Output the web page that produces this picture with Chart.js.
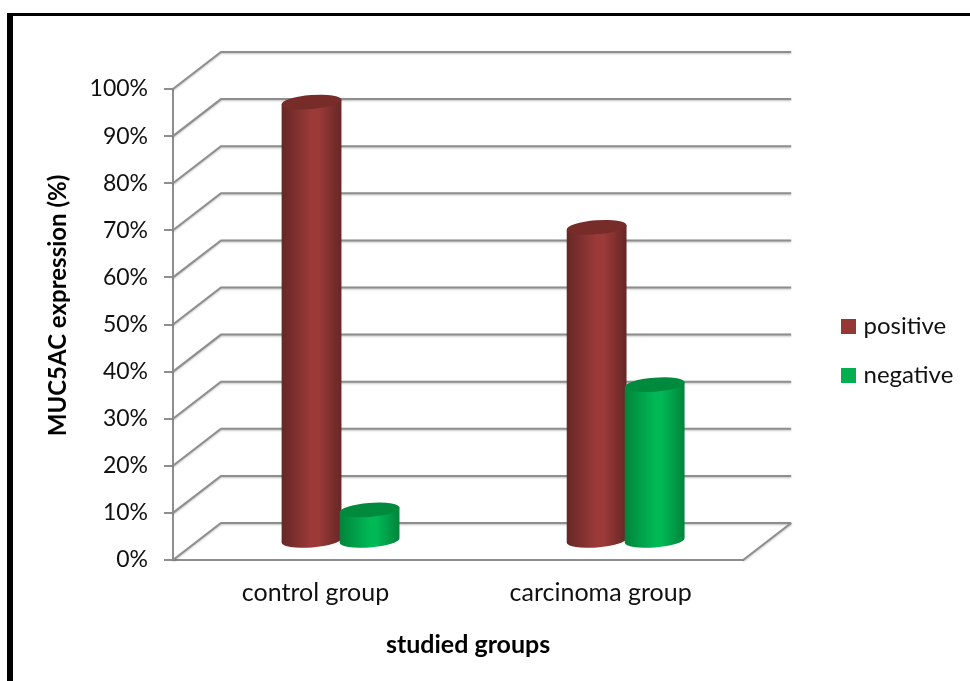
<!DOCTYPE html>
<html>
<head>
<meta charset="utf-8">
<script src="https://cdn.jsdelivr.net/npm/chart.js@4"></script>
<style>
  html, body { margin: 0; padding: 0; background: #fff; overflow: hidden; }
  #frame { position: absolute; left: 7px; top: 13px; right: 0; bottom: 0;
           border-left: 6px solid #000; border-top: 3px solid #000; }
  #c { position: absolute; left: 0; top: 0; }
</style>
</head>
<body>
<div id="frame"></div>
<canvas id="c" width="970" height="681"></canvas>
<script>
const categories = ['control group', 'carcinoma group'];
const positive = [93.3, 66.7];
const negative = [6.7, 33.3];
const seriesNames = ['positive', 'negative'];
const seriesColors = ['#953735', '#00b050'];
const xTitle = 'studied groups';
const yTitle = 'MUC5AC expression (%)';

const FONT = 'Lato, Carlito, sans-serif';
const GRID = '#8e8e8e';
const DEPTH_X = 48, DEPTH_Y = -37;     // back wall offset of the 3D box
const BAR_DX = 25, BAR_DY = -18.5;     // columns stand in the middle of the floor
const TILT = -4.5 * Math.PI / 180;
const RY = 7;

const shades = {
  positive: { edge: '#652726', mid: '#9c3a38', cap: '#772c2a' },
  negative: { edge: '#00843b', mid: '#00b855', cap: '#008a3e' }
};

function strokeShadowed(ctx, pts) {
  ctx.save();
  ctx.strokeStyle = GRID;
  ctx.lineWidth = 2;
  ctx.shadowColor = 'rgba(0,0,0,0.25)';
  ctx.shadowBlur = 2;
  ctx.shadowOffsetY = 1;
  ctx.beginPath();
  pts.forEach((p, i) => i ? ctx.lineTo(p[0], p[1]) : ctx.moveTo(p[0], p[1]));
  ctx.stroke();
  ctx.restore();
}

function drawCylinder(ctx, el, tone) {
  const cx = el.x + BAR_DX;
  const rx = el.width / 2;
  const topY = el.y + BAR_DY;
  const baseY = el.base + BAR_DY;
  const sx = rx * Math.cos(TILT), sy = rx * Math.sin(TILT);

  const g = ctx.createLinearGradient(cx - rx, 0, cx + rx, 0);
  g.addColorStop(0, tone.edge);
  g.addColorStop(0.5, tone.mid);
  g.addColorStop(0.62, tone.mid);
  g.addColorStop(1, tone.edge);

  ctx.save();
  ctx.fillStyle = g;
  ctx.beginPath();
  ctx.moveTo(cx - sx, topY - sy);
  ctx.lineTo(cx - sx, baseY - sy);
  ctx.ellipse(cx, baseY, rx, RY, TILT, Math.PI, 0, true);
  ctx.lineTo(cx + sx, topY + sy);
  ctx.closePath();
  ctx.fill();

  ctx.fillStyle = tone.cap;
  ctx.beginPath();
  ctx.ellipse(cx, topY, rx, RY, TILT, 0, Math.PI * 2);
  ctx.fill();
  ctx.restore();
}

// Shifts an axis title along its axis without disturbing the layout.
function nudgeTitle(scale, dx, dy) {
  if (scale.titleNudged) return;
  scale.titleNudged = true;
  const original = scale.drawTitle;
  scale.drawTitle = function () {
    const ctx = this.ctx;
    ctx.save();
    ctx.translate(dx, dy);
    original.call(this);
    ctx.restore();
  };
}

// Solid square used as the legend key, so the label can sit close to it.
function swatch(color) {
  const c = document.createElement('canvas');
  c.width = 15; c.height = 15;
  const g = c.getContext('2d');
  g.fillStyle = color;
  g.fillRect(0, 0, 15, 15);
  return c;
}

const box3d = {
  id: 'box3d',
  afterLayout(chart) {
    // the key sits level with the middle of the plot, right of the back wall
    const l = chart.legend;
    const w = l.width, h = l.height;
    l.left = 820.5; l.right = l.left + w;
    l.top = 289; l.bottom = l.top + h;
  },
  beforeDatasetsDraw(chart) {
    const { ctx, scales: { x, y } } = chart;
    const left = x.left, right = x.right;
    y.ticks.forEach(t => {
      const py = y.getPixelForValue(t.value);
      strokeShadowed(ctx, [[left, py], [left + DEPTH_X, py + DEPTH_Y], [right + DEPTH_X, py + DEPTH_Y]]);
    });
    const y0 = y.getPixelForValue(0);
    strokeShadowed(ctx, [[right, y0], [right + DEPTH_X, y0 + DEPTH_Y]]);

    ['positive', 'negative'].forEach((name, i) => {
      chart.getDatasetMeta(i).data.forEach(el => drawCylinder(ctx, el, shades[name]));
    });
    return false;
  }
};

new Chart(document.getElementById('c'), {
  type: 'bar',
  data: {
    labels: categories,
    datasets: [
      { label: seriesNames[0], data: positive, backgroundColor: seriesColors[0] },
      { label: seriesNames[1], data: negative, backgroundColor: seriesColors[1] }
    ]
  },
  options: {
    responsive: false,
    animation: false,
    layout: { padding: { left: 44, top: 89, right: 84, bottom: 21 } },
    categoryPercentage: 116 / 285,
    barPercentage: 60 / 58,
    scales: {
      x: {
        grid: { display: false },
        border: { display: true, color: GRID, width: 2 },
        ticks: { color: '#111', font: { family: FONT, size: 25 }, padding: 10, maxRotation: 0 },
        title: { display: true, text: xTitle, color: '#000', padding: { top: 22, bottom: 0 },
                 font: { family: FONT, size: 25, weight: 'bold' } },
        afterFit(s) { s.height = 100; },
        afterUpdate(s) { nudgeTitle(s, 10, 0); }
      },
      y: {
        min: 0, max: 100,
        grid: { drawOnChartArea: false, color: GRID, lineWidth: 2, tickLength: 9 },
        border: { display: true, color: GRID, width: 2 },
        ticks: { stepSize: 10, color: '#111', padding: 16, font: { family: FONT, size: 23 },
                 callback: v => v + '%' },
        title: { display: true, text: yTitle, color: '#000', padding: 0,
                 font: { family: FONT, size: 24, weight: 'bold' } },
        afterFit(s) { s.width = 129; },
        afterUpdate(s) { nudgeTitle(s, 0, -19); }
      }
    },
    plugins: {
      legend: {
        position: 'right',
        align: 'start',
        labels: {
          usePointStyle: true, pointStyleWidth: 6, boxHeight: 15,
          padding: 25, color: '#111', font: { family: FONT, size: 24 },
          generateLabels(chart) {
            return Chart.defaults.plugins.legend.labels.generateLabels(chart)
              .map((item, i) => Object.assign(item, { pointStyle: swatch(seriesColors[i]) }));
          }
        }
      },
      tooltip: { enabled: false }
    }
  },
  plugins: [box3d]
});
</script>
</body>
</html>
